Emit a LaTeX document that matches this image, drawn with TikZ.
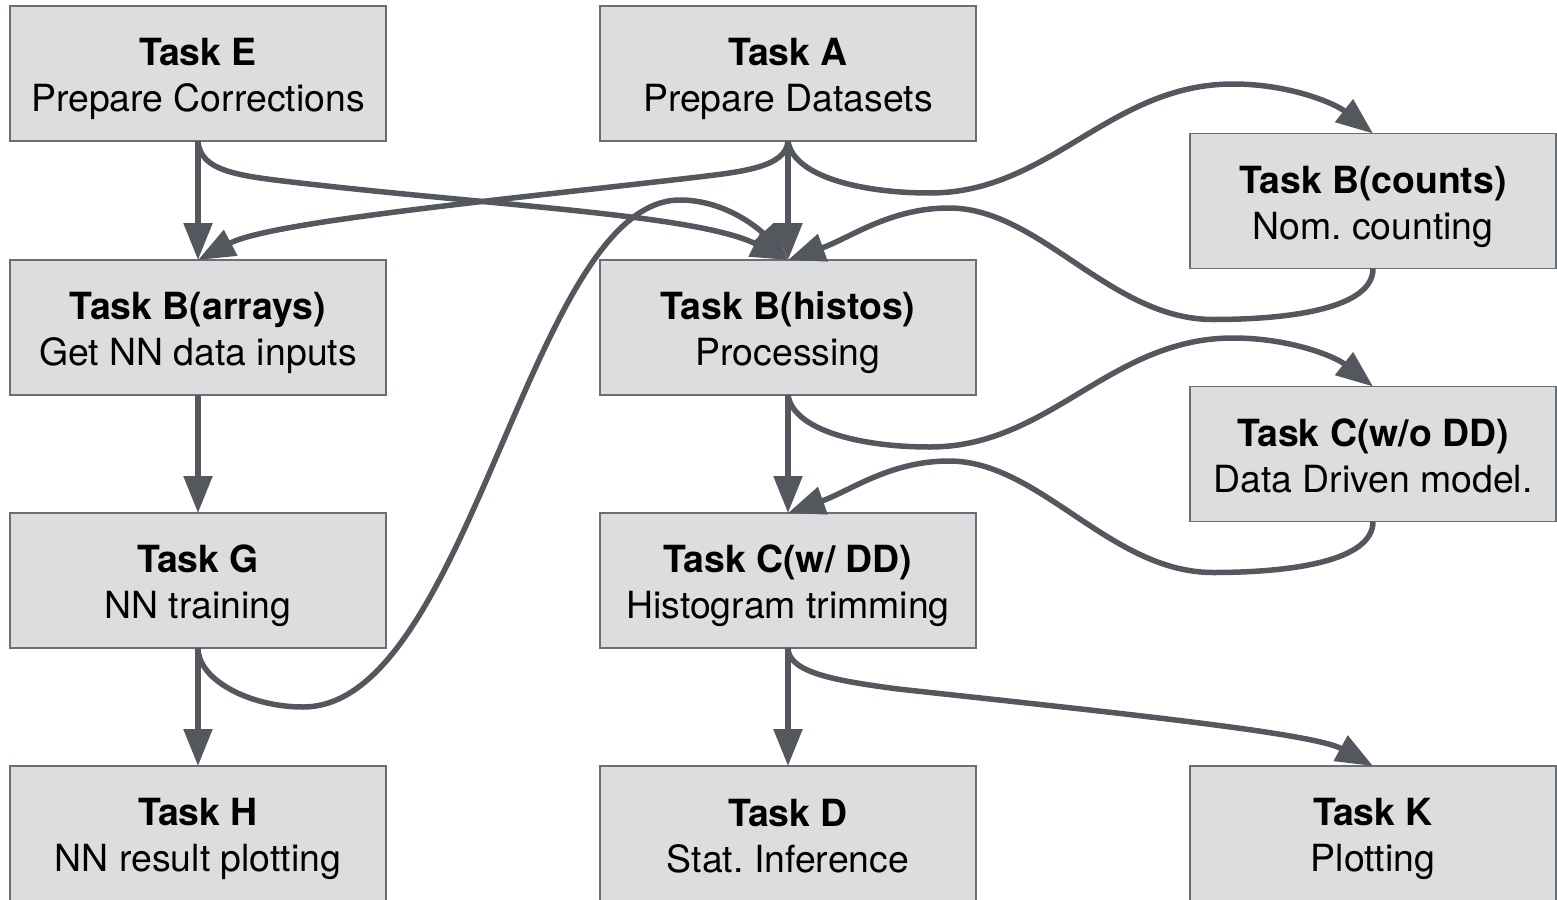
\documentclass[tikz,border=0pt]{standalone}
\usepackage{fontspec}
\setmainfont{TeX Gyre Heros}
\usetikzlibrary{arrows.meta,calc}
\definecolor{boxfill}{HTML}{DCDDDF}
\definecolor{boxline}{HTML}{6B6E73}
\definecolor{edgecol}{HTML}{54585E}
\newcommand\tasktext[2]{\rule{0pt}{39pt}\textbf{#1}\\#2\rule[-8pt]{0pt}{8pt}}
\frenchspacing
\begin{document}
\begin{tikzpicture}[x=1pt,y=-1pt,
  task/.style={draw=boxline, line width=1.5pt, fill=boxfill, minimum width=376pt,
    minimum height=135pt, inner sep=0pt, outer sep=0pt, align=center,
    font=\fontsize{37.4}{46}\selectfont},
  narrow/.style={task, minimum width=366pt},
  link/.style={draw=edgecol, line width=5.5pt, -{Triangle[length=37pt,width=28pt]}}]
\useasboundingbox (0,0) rectangle (1557,899);
\node[task] (E) at (198,73.5) {\tasktext{Task E}{Prepare Corrections}};
\node[task] (A) at (788,73.5) {\tasktext{Task A}{Prepare Datasets}};
\node[narrow] (Bc) at (1373,201) {\tasktext{Task B(counts)}{Nom. counting}};
\node[task] (Ba) at (198,327.5) {\tasktext{Task B(arrays)}{Get NN data inputs}};
\node[task] (Bh) at (788,327.5) {\tasktext{Task B(histos)}{Processing}};
\node[narrow] (Cwo) at (1373,454) {\tasktext{Task C(w/o DD)}{Data Driven model.}};
\node[task] (G) at (198,580.5) {\tasktext{Task G}{NN training}};
\node[task] (Cw) at (788,580.5) {\tasktext{Task C(w/ DD)}{Histogram trimming}};
\node[task] (H) at (198,833.5) {\tasktext{Task H}{NN result plotting}};
\node[task] (D) at (788,833.5) {\tasktext{Task D}{Stat. Inference}};
\node[narrow] (K) at (1373,833.5) {\tasktext{Task K}{Plotting}};
% straight connectors
\draw[link] (E.south) -- (Ba.north);
\draw[link] (A.south) -- (Bh.north);
\draw[link] (Ba.south) -- (G.north);
\draw[link] (G.south) -- (H.north);
\draw[link] (Bh.south) -- (Cw.north);
\draw[link] (Cw.south) -- (D.north);
% E -> B(histos)
\draw[link] (E.south) .. controls +(2,31) and +(-60,-7) .. ($(E.south)+(102,42)$)
  .. controls +(200,23) and +(-90,-45) .. (Bh.north);
% A -> B(arrays)
\draw[link] (A.south) .. controls +(-2,27) and +(50,-6) .. ($(A.south)+(-98,37)$)
  .. controls +(-190,22) and +(72,-38) .. (Ba.north);
% A -> B(counts)
\draw[link] (A.south) .. controls +(5,35) and +(-70,0) .. ($(A.south)+(142,52)$)
  .. controls +(120,0) and +(-123,0) .. ($(A.south)+(445,-57)$)
  .. controls +(57,0) and +(-38,-30) .. (Bc.north);
% B(counts) -> B(histos)
\draw[link] (Bc.south) .. controls +(0,40) and +(77,0) .. ($(Bc.south)+(-160,51)$)
  .. controls +(-103,0) and +(91,0) .. ($(Bh.north)+(161,-52)$)
  .. controls +(-59,0) and +(62,-22) .. (Bh.north);
% G -> B(histos)
\draw[link] (G.south) .. controls +(0,32) and +(-53,0) .. ($(G.south)+(105,59)$)
  .. controls +(167,0) and +(-150,0) .. ($(Bh.north)+(-108,-60)$)
  .. controls +(50,0) and +(-23,-25) .. (Bh.north);
% B(histos) -> C(w/o DD)
\draw[link] (Bh.south) .. controls +(5,35) and +(-70,0) .. ($(Bh.south)+(142,52)$)
  .. controls +(120,0) and +(-123,0) .. ($(Bh.south)+(445,-57)$)
  .. controls +(57,0) and +(-38,-30) .. (Cwo.north);
% C(w/o DD) -> C(w/ DD)
\draw[link] (Cwo.south) .. controls +(0,40) and +(77,0) .. ($(Cwo.south)+(-160,51)$)
  .. controls +(-103,0) and +(91,0) .. ($(Cw.north)+(161,-52)$)
  .. controls +(-59,0) and +(62,-22) .. (Cw.north);
% C(w/ DD) -> K
\draw[link] (Cw.south) .. controls +(0,25) and +(-60,-8) .. ($(Cw.south)+(110,41)$)
  .. controls +(220,24) and +(-60,-33) .. (K.north);
\end{tikzpicture}
\end{document}
